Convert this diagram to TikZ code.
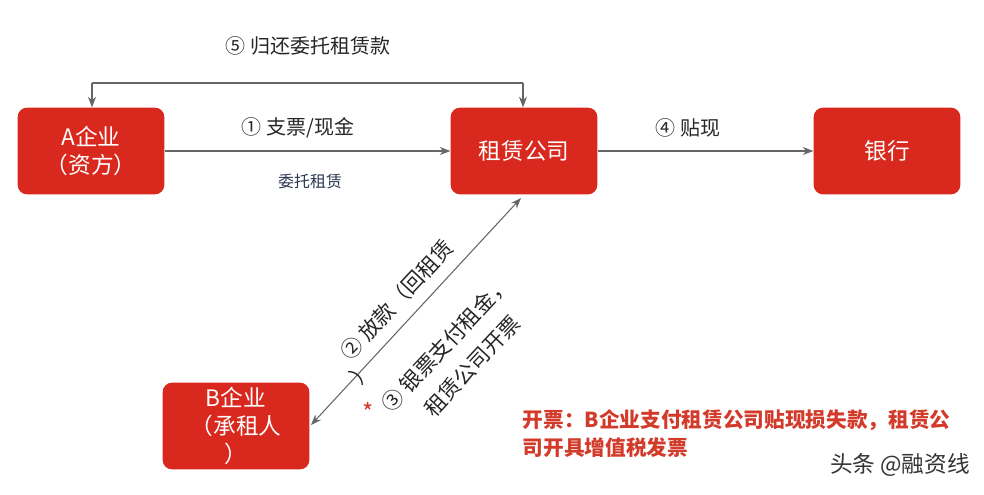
\documentclass[tikz,border=0pt]{standalone}
\usepackage{fontspec}
\setmainfont{Noto Sans CJK SC}
\usetikzlibrary{arrows.meta}
\definecolor{boxred}{HTML}{D9291E}
\definecolor{notered}{HTML}{D23A2A}
\definecolor{lbl}{HTML}{2A3550}
\tikzset{
  box/.style={fill=boxred,rounded corners=7pt,minimum width=110pt,minimum height=65pt,text=white,font=\fontsize{17}{21}\selectfont,align=center,inner sep=2pt},
  conn/.style={draw=gray!80!black,line width=0.8pt,-{Stealth[length=8pt,width=6pt]}},
  lab/.style={font=\fontsize{15}{18}\selectfont,text=black!85},
  rlab/.style={font=\fontsize{16}{19}\selectfont,text=black!85,rotate=47,inner sep=0pt},
}
\begin{document}
\begin{tikzpicture}[x=0.75pt,y=-0.75pt]
\useasboundingbox (0,0) rectangle (984,494);
\node[box] (A) at (91,151) {A企业\\（资方）};
\node[box] (L) at (524,151) {租赁公司};
\node[box] (K) at (887,151) {银行};
\node[box] (B) at (236,426) {B企业\\（承租人\\）};
\coordinate (t1) at (523,83);
\coordinate (t2) at (92,83);
\draw[conn,-] (t1) -- (t2);
\draw[conn] (t1) -- (t1 |- L.north);
\draw[conn] (t2) -- (t2 |- A.north);
\draw[conn] (A) -- (L);
\draw[conn] (L) -- (K);
\coordinate (d1) at (521,198);
\coordinate (d2) at (311,425);
\draw[conn,{Stealth[length=8pt,width=6pt]}-{Stealth[length=8pt,width=6pt]}] (d2) -- (d1);
\node[lab] (l5) at (308,46) {⑤ 归还委托租赁款};
\node[lab] (l1) at (298,128) {① 支票/现金};
\node[font=\fontsize{12}{14}\selectfont,text=lbl] (lw) at (310,181) {委托租赁};
\node[lab] (l4) at (688,128) {④ 贴现};
\node[rlab] (l2) at (397,300) {② 放款（回租赁};
\node[rlab] (l2b) at (362,372) {）};
\node[rlab] (l3a) at (446,344) {③ 银票支付租金，};
\node[rlab] (l3b) at (472,366) {租赁公司开票};
\node[text=notered,font=\fontsize{18}{18}\selectfont] (ast) at (368,412) {*};
\node[text=notered,font=\bfseries\fontsize{15.5}{21}\selectfont,align=left,anchor=north west] (note) at (518,405) {开票：B企业支付租赁公司贴现损失款，租赁公\\司开具增值税发票};
\node[font=\fontsize{17}{19}\selectfont,text=black!80] (wm) at (900,465) {头条 @融资线};
\end{tikzpicture}
\end{document}
